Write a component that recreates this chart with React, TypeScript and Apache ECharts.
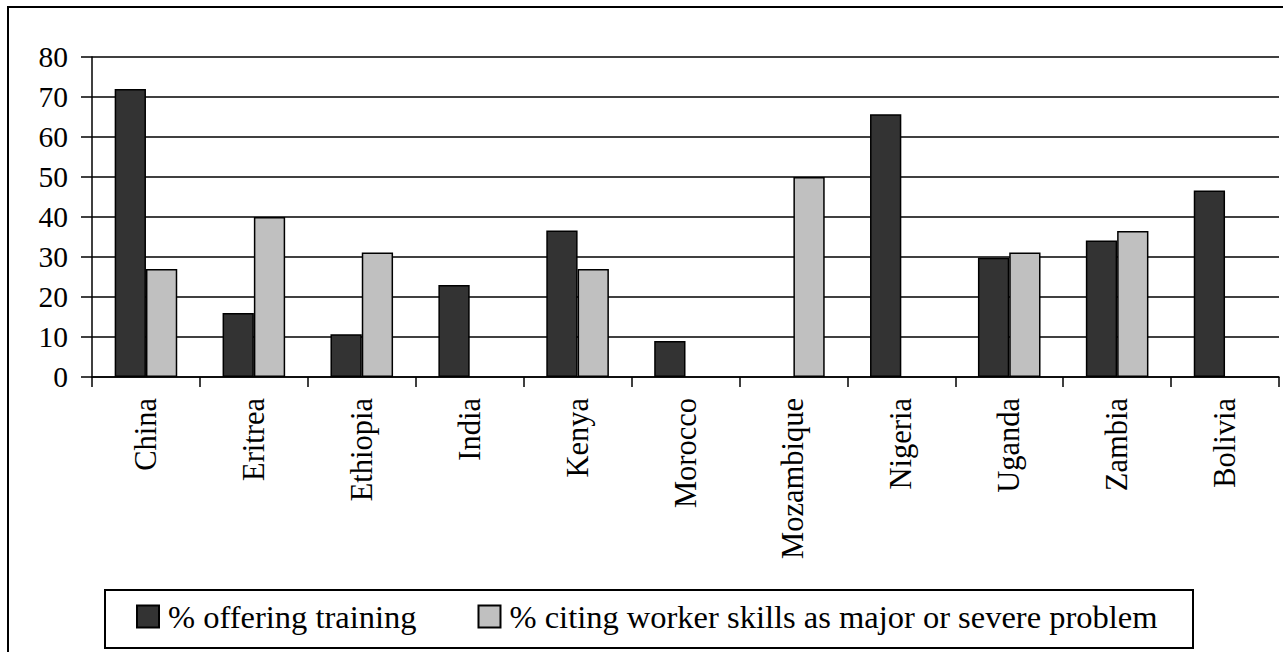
import React, { useEffect, useRef } from "react";
import * as echarts from "echarts";

const categories = ["China", "Eritrea", "Ethiopia", "India", "Kenya", "Morocco", "Mozambique", "Nigeria", "Uganda", "Zambia", "Bolivia"];
const offeringTraining: (number | null)[] = [72, 16, 10.7, 23, 36.6, 9, null, 65.7, 29.8, 34.1, 46.6];
const citingSkills: (number | null)[] = [27, 40, 31.1, null, 27, null, 50, null, 31.1, 36.5, null];
const seriesNames = ["% offering training", "% citing worker skills as major or severe problem"];

const FONT = "Times New Roman, Liberation Serif, DejaVu Serif, serif";

export default function App() {
  const ref = useRef<HTMLDivElement>(null);
  useEffect(() => {
    const chart = echarts.init(ref.current!, null, { renderer: "svg" });
    chart.setOption({
      animation: false,
      backgroundColor: "#ffffff",
      textStyle: { fontFamily: FONT },
      grid: { left: 92, right: 4, top: 57, bottom: 275, containLabel: false },
      graphic: [
        {
          type: "rect",
          shape: { x: 8, y: 7, width: 1400, height: 800 },
          style: { fill: "none", stroke: "#000", lineWidth: 2 },
          silent: true,
          z: -1,
        },
        {
          type: "rect",
          shape: { x: 105, y: 590, width: 1088, height: 58 },
          style: { fill: "#fff", stroke: "#000", lineWidth: 2 },
          silent: true,
          z: 0,
        },
      ],
      legend: {
        left: 136,
        top: 600,
        padding: 0,
        itemWidth: 22,
        itemHeight: 22,
        itemGap: 61,
        icon: "rect",
        z: 10,
        textStyle: { fontFamily: FONT, fontSize: 32.5, color: "#000", padding: [0, 0, 0, 4] },
        data: seriesNames,
      },
      xAxis: {
        type: "category",
        data: categories,
        axisLine: { lineStyle: { color: "#000", width: 1.5 } },
        axisTick: { show: true, length: 10, lineStyle: { color: "#000", width: 1.5 } },
        axisLabel: { rotate: 90, margin: 21, fontFamily: FONT, fontSize: 30.5, color: "#000", interval: 0 },
      },
      yAxis: {
        type: "value",
        min: 0,
        max: 80,
        interval: 10,
        axisLine: { show: true, lineStyle: { color: "#000", width: 1.5 } },
        axisTick: { show: true, length: 11, lineStyle: { color: "#000", width: 1.5 } },
        axisLabel: { margin: 24, fontFamily: FONT, fontSize: 29.5, color: "#000" },
        splitLine: { show: true, lineStyle: { color: "#000", width: 1.5 } },
      },
      series: [
        {
          name: seriesNames[0],
          type: "bar",
          data: offeringTraining,
          barGap: "0%",
          barCategoryGap: "42%",
          itemStyle: { color: "#333333", borderColor: "#000", borderWidth: 1.5 },
        },
        {
          name: seriesNames[1],
          type: "bar",
          data: citingSkills,
          barGap: "0%",
          barCategoryGap: "42%",
          itemStyle: { color: "#c0c0c0", borderColor: "#000", borderWidth: 1.5 },
        },
      ],
    });
    return () => chart.dispose();
  }, []);
  return <div ref={ref} style={{ position: "fixed", left: 0, top: 0, width: 1283, height: 652 }} />;
}
